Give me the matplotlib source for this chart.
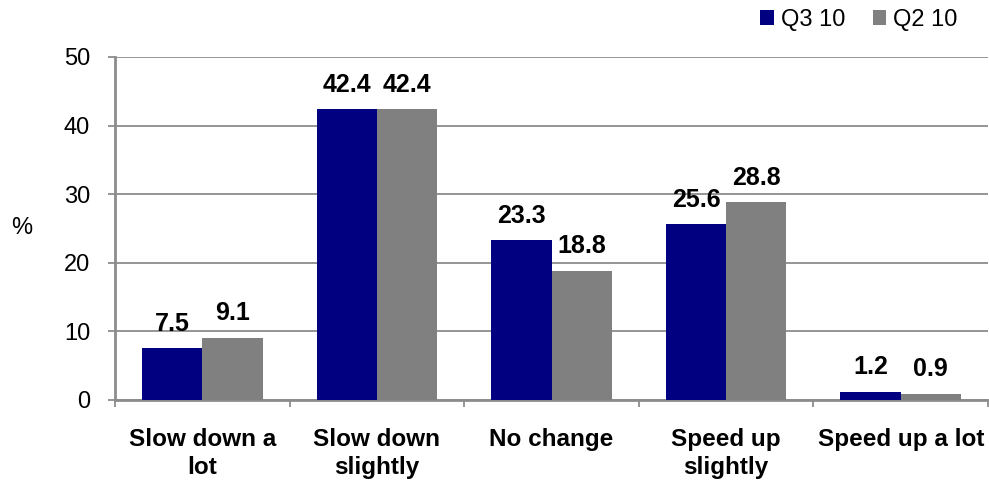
import matplotlib
matplotlib.use("Agg")
import matplotlib.pyplot as plt
import numpy as np

plt.rcParams['font.family'] = ['Liberation Sans', 'DejaVu Sans']

# Expected change in pace, share of respondents (%)
categories = ["Slow down a\nlot", "Slow down\nslightly", "No change", "Speed up\nslightly", "Speed up a lot"]
q3_10 = [7.5, 42.4, 23.3, 25.6, 1.2]
q2_10 = [9.1, 42.4, 18.8, 28.8, 0.9]
series_names = ["Q3 10", "Q2 10"]
colors = ["#000080", "#808080"]
grid_gray = "#8c8c8c"
fs = 17

fig = plt.figure(figsize=(9.89, 4.83), dpi=100)
ax = fig.add_axes([0.1163, 0.172, 0.8827, 0.71])

x = np.arange(len(categories))
w = 0.345
b1 = ax.bar(x - w / 2, q3_10, width=w, color=colors[0], label=series_names[0], zorder=3)
b2 = ax.bar(x + w / 2, q2_10, width=w, color=colors[1], label=series_names[1], zorder=3)

for bars, vals in ((b1, q3_10), (b2, q2_10)):
    for rect, v in zip(bars, vals):
        ax.annotate(f"{v:.1f}", (rect.get_x() + rect.get_width() / 2, v),
                    xytext=(0, 9), textcoords="offset points",
                    ha="center", va="bottom", fontsize=18, fontweight="bold")

ax.set_xlim(-0.5, len(categories) - 0.5)
ax.set_ylim(0, 50)
ax.set_yticks(range(0, 51, 10))
ax.yaxis.grid(True, color=grid_gray, linewidth=1.3, zorder=0)
ax.tick_params(axis="y", labelsize=fs, length=5, width=1.3, color=grid_gray, pad=13)

# boundary ticks between groups, labels at group centres
ax.set_xticks(np.arange(-0.5, len(categories), 1.0))
ax.set_xticklabels([])
ax.set_xticks(x, minor=True)
ax.set_xticklabels(categories, minor=True, fontsize=17.5, fontweight="bold", linespacing=1.3)
ax.tick_params(axis="x", which="major", length=5, width=1.3, color=grid_gray)
ax.tick_params(axis="x", which="minor", length=0, pad=20)

for side in ("top", "right"):
    ax.spines[side].set_visible(False)
ax.spines["left"].set_color(grid_gray)
ax.spines["left"].set_linewidth(2)
ax.spines["bottom"].set_color(grid_gray)
ax.spines["bottom"].set_linewidth(2)

fig.text(0.022, 0.528, "%", fontsize=fs, ha="center", va="center")

fig.legend(loc="upper right", bbox_to_anchor=(0.99, 1.025), ncol=2, frameon=False,
           fontsize=fs, handlelength=0.58, handleheight=0.58, handletextpad=0.3,
           columnspacing=1.15)

fig.savefig("out.png", dpi=100)
